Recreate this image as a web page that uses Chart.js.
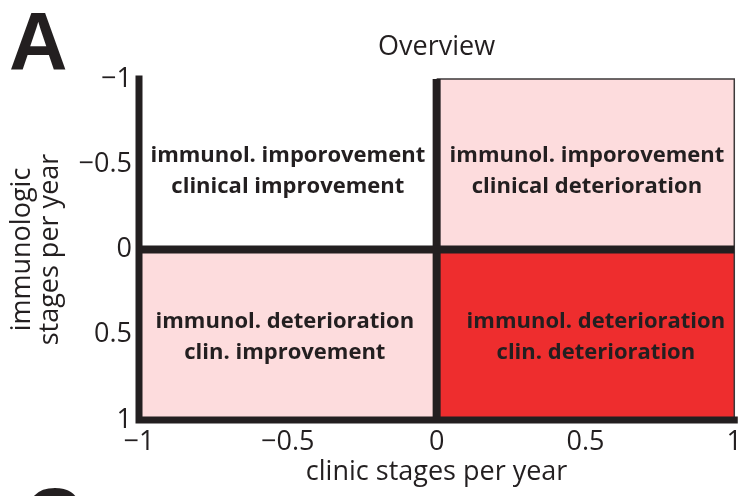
<!DOCTYPE html>
<html>
<head>
<meta charset="utf-8">
<title>Overview</title>
<script src="https://cdn.jsdelivr.net/npm/chart.js@4.4.0/dist/chart.umd.min.js"></script>
<style>
    html, body { margin: 0; padding: 0; background: #fff; overflow: hidden; }
    #wrap { position: relative; width: 748px; height: 496px; overflow: hidden; }
    .panel {
        position: absolute;
        font-family: "Liberation Sans", Arial, sans-serif;
        font-weight: bold;
        font-size: 81px;
        line-height: 1;
        color: #231f20;
    }
</style>
</head>
<body>
<div id="wrap">
    <canvas id="overviewChart" width="748" height="496"></canvas>
    <div class="panel" style="left:9px; top:1px;">A</div>
    <div class="panel" style="left:24px; top:477px;">C</div>
</div>
<script>
// axis ticks
const xTickValues = [-1, -0.5, 0, 0.5, 1];
const xTickLabels = ['\u22121', '\u22120.5', '0', '0.5', '1'];
const yTickValues = [-1, -0.5, 0, 0.5, 1];
const yTickLabels = ['\u22121', '\u22120.5', '0', '0.5', '1'];

// quadrants: x range and the outer y edge (filled back to y = 0)
const quadrantXFrom = [-1, 0, -1, 0];
const quadrantXTo = [0, 1, 0, 1];
const quadrantYEdge = [-1, -1, 1, 1];
const quadrantText = [
    ['immunol. imporovement', 'clinical improvement'],
    ['immunol. imporovement', 'clinical deterioration'],
    ['immunol. deterioration', 'clin. improvement'],
    ['immunol. deterioration', 'clin. deterioration']
];

const ink = '#231f20';
const quadrantFill = ['rgba(255,255,255,0)', '#fddcdd', '#fddcdd', '#ee2d2e'];

Chart.defaults.font.family = '"Open Sans", sans-serif';
Chart.defaults.color = ink;

function seg(points) {
    return points.map(p => ({ x: p[0], y: p[1] }));
}

const datasets = [];

// frame lines (drawn on top)
datasets.push({
    data: seg([[-1, -1], [-1, 1], [1, 1]]),
    borderColor: ink, borderWidth: 7,
    borderCapStyle: 'square', borderJoinStyle: 'miter',
    order: 0
});
datasets.push({
    data: seg([[-1, 0], [1, 0]]),
    borderColor: ink, borderWidth: 8, order: 0
});
datasets.push({
    data: seg([[0, -1], [0, 1]]),
    borderColor: ink, borderWidth: 8, order: 0
});
datasets.push({
    data: seg([[0, -1], [1, -1], [1, 1]]),
    borderColor: '#3d393a', borderWidth: 1.5, order: 1
});

// quadrant areas
quadrantYEdge.forEach((edge, i) => {
    datasets.push({
        data: seg([[quadrantXFrom[i], edge], [quadrantXTo[i], edge]]),
        borderWidth: 0,
        backgroundColor: quadrantFill[i],
        fill: { value: 0 },
        order: 2
    });
});

const quadrantLabels = {
    id: 'quadrantLabels',
    afterDatasetsDraw(chart, args, opts) {
        const { ctx, scales: { x, y } } = chart;
        ctx.save();
        ctx.font = 'bold 22px "Open Sans"';
        ctx.fillStyle = ink;
        ctx.textAlign = 'center';
        ctx.textBaseline = 'middle';
        quadrantText.forEach((lines, i) => {
            const cx = x.getPixelForValue(opts.anchors[i][0]);
            const cy = y.getPixelForValue(opts.anchors[i][1]);
            lines.forEach((line, j) => {
                ctx.fillText(line, cx, cy + (j - (lines.length - 1) / 2) * opts.lineGap);
            });
        });
        ctx.restore();
    }
};

const tickFont = { size: 27 };
const titleFont = { size: 27, lineHeight: 1.05 };

const chart = new Chart(document.getElementById('overviewChart').getContext('2d'), {
    type: 'line',
    data: { datasets: datasets },
    options: {
        responsive: false,
        animation: false,
        clip: false,
        layout: { padding: { right: 8 } },
        elements: { point: { radius: 0, hoverRadius: 0 }, line: { tension: 0 } },
        plugins: {
            legend: { display: false },
            tooltip: { enabled: false },
            title: {
                display: true,
                fullSize: false,
                text: 'Overview',
                font: { size: 27, weight: 'normal', lineHeight: 1.2 },
                color: ink,
                padding: { top: 31, bottom: 15.6 }
            },
            quadrantLabels: {
                anchors: [[-0.5, -0.46], [0.505, -0.46], [-0.51, 0.515], [0.535, 0.515]],
                lineGap: 31
            }
        },
        scales: {
            x: {
                type: 'linear', min: -1, max: 1,
                grid: { display: false, drawTicks: false },
                border: { display: false },
                afterBuildTicks: s => { s.ticks = xTickValues.map(v => ({ value: v })); },
                ticks: {
                    font: tickFont, color: ink, padding: 6, maxRotation: 0,
                    callback: (v, i) => xTickLabels[i]
                },
                title: {
                    display: true, text: 'clinic stages per year',
                    font: titleFont, color: ink, padding: { top: 0, bottom: 10 }
                },
                afterFit: s => { s.height = 76; }
            },
            y: {
                type: 'linear', min: -1, max: 1, reverse: true,
                grid: { display: false, drawTicks: false },
                border: { display: false },
                afterBuildTicks: s => { s.ticks = yTickValues.map(v => ({ value: v })); },
                ticks: {
                    font: tickFont, color: ink, padding: 7,
                    callback: (v, i) => yTickLabels[i]
                },
                title: {
                    display: true, text: ['immunologic', 'stages per year'],
                    font: titleFont, color: ink, padding: { top: 8, bottom: 0 }
                },
                afterFit: s => { s.width = 139; }
            }
        }
    },
    plugins: [quadrantLabels]
});
</script>
</body>
</html>
